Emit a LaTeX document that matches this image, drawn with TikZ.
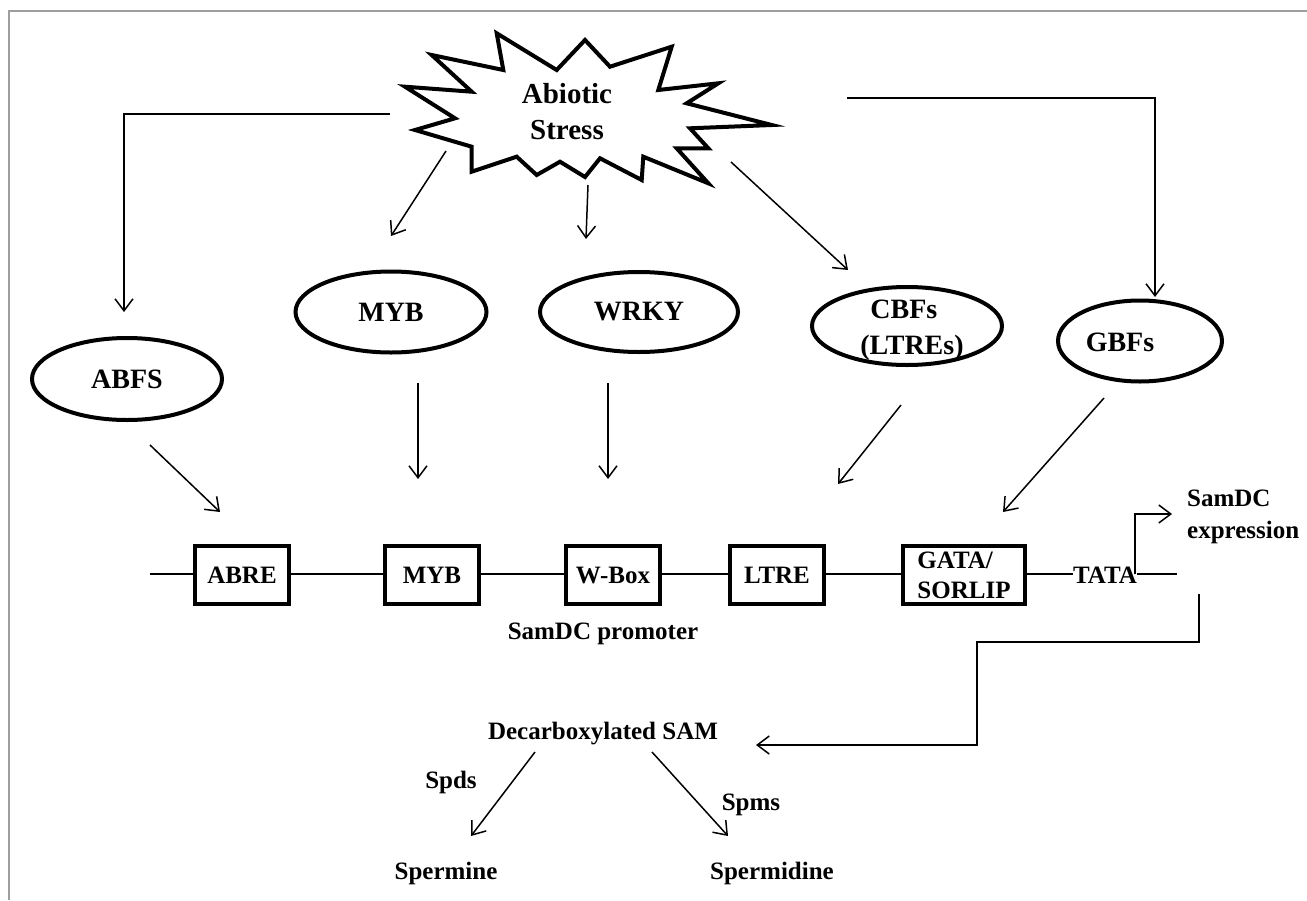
\documentclass[tikz,border=0pt]{standalone}
\usepackage{fontspec}
\setmainfont{Liberation Serif}
\usetikzlibrary{shapes.geometric,arrows.meta}
\begin{document}
\begin{tikzpicture}[x=1pt,y=-1pt,
  arr/.style={line width=1.5pt,-{Straight Barb[length=12pt,width=18pt]}},
  ln/.style={line width=1.5pt},
  ell/.style={ellipse,draw,line width=4pt,inner sep=0pt,font=\fontsize{28}{34}\selectfont\bfseries},
  bx/.style={draw,line width=3.5pt,inner sep=0pt,minimum height=58pt,font=\fontsize{25}{29}\selectfont\bfseries},
  lbl/.style={inner sep=0pt,font=\fontsize{25}{32}\selectfont\bfseries},
]
\useasboundingbox (0,0) rectangle (1307,900);
\fill[white] (0,0) rectangle (1307,900);
\draw[black!38,line width=2pt] (9,900) -- (9,11) -- (1307,11);

% starburst
\draw[line width=4pt,line join=miter] (496.7,33.3) -- (556.7,70) -- (585,40) -- (610,66.7) -- (671.7,46.7) -- (658.3,90) -- (718.3,83.3) -- (686.7,103.3) -- (771.7,125) -- (690,128.3) -- (708.3,148.3) -- (676.7,148.3) -- (708.3,183.3) -- (643.3,156.7) -- (641.7,180) -- (600,158.3) -- (585,177) -- (560,161.7) -- (536.7,175) -- (516.7,156.7) -- (471.7,171.7) -- (471.7,146.7) -- (415,130) -- (455,118.3) -- (405,86.7) -- (471.7,91.7) -- (431.7,55) -- (503.3,70) -- cycle;
\node[inner sep=0pt,align=center,font=\fontsize{29}{36}\selectfont\bfseries] (stress) at (567,112) {Abiotic\\Stress};

% ellipses
\node[ell,minimum width=190pt,minimum height=82pt] (abfs) at (127,379) {ABFS};
\node[ell,minimum width=191pt,minimum height=81pt] (myb) at (391,312) {MYB};
\node[ell,minimum width=198pt,minimum height=80pt] (wrky) at (639,312) {WRKY};
\node[ell,minimum width=190pt,minimum height=78pt] (cbf) at (907,326) {};
\node[inner sep=0pt,align=left,font=\fontsize{28}{36}\selectfont\bfseries] (cbft) at (912,330) {\hspace*{10pt}CBFs\\(LTREs)};
\node[ell,minimum width=164pt,minimum height=81pt] (gbf) at (1140,341) {};
\node[inner sep=0pt,font=\fontsize{28}{34}\selectfont\bfseries] (gbft) at (1120,342) {GBFs};

% promoter boxes
\node[bx,minimum width=94pt] (abre) at (242,575) {ABRE};
\node[bx,minimum width=94pt] (mybb) at (432,575) {MYB};
\node[bx,minimum width=94pt] (wbox) at (613,575) {W-Box};
\node[bx,minimum width=94pt] (ltre) at (777,575) {LTRE};
\node[bx,minimum width=122pt,align=left,font=\fontsize{25}{30}\selectfont\bfseries] (gata) at (964,575) {GATA/\\SORLIP};
\node[lbl] (tata) at (1105,575) {TATA};
\node[lbl] (prom) at (603,634) {SamDC promoter};
\node[lbl,align=left,anchor=west] (expr) at (1187,517) {SamDC\\expression};

\coordinate (pstart) at (150,574);
\coordinate (pend) at (1177,574);
\draw[ln] (pstart) -- (abre.west |- pstart);
\draw[ln] (abre.east |- pstart) -- (mybb.west |- pstart);
\draw[ln] (mybb.east |- pstart) -- (wbox.west |- pstart);
\draw[ln] (wbox.east |- pstart) -- (ltre.west |- pstart);
\draw[ln] (ltre.east |- pstart) -- (gata.west |- pstart);
\draw[ln] (gata.east |- pstart) -- (tata.west |- pstart);
\draw[ln] (tata.east |- pstart) -- (pend);

% transcription start
\coordinate (tss) at (1135,574);
\coordinate (tssend) at (1172,514);
\draw[arr] (tss) |- (tssend);

% stress arrows
\coordinate (sL) at (390,114);
\coordinate (aL) at (124,312);
\draw[arr] (sL) -| (aL);
\coordinate (sM) at (446,151);
\coordinate (aM) at (391,236);
\draw[arr] (sM) -- (aM);
\coordinate (sW) at (588,185);
\coordinate (aW) at (586,239);
\draw[arr] (sW) -- (aW);
\coordinate (sC) at (731,162);
\coordinate (aC) at (848,270);
\draw[arr] (sC) -- (aC);
\coordinate (sR) at (847,98);
\coordinate (aR) at (1155,297);
\draw[arr] (sR) -| (aR);

% factor to element arrows
\coordinate (f1) at (150,445); \coordinate (e1) at (220,512);
\draw[arr] (f1) -- (e1);
\coordinate (f2) at (418,383); \coordinate (e2) at (418,479);
\draw[arr] (f2) -- (e2);
\coordinate (f3) at (608,383); \coordinate (e3) at (608,479);
\draw[arr] (f3) -- (e3);
\coordinate (f4) at (901,405); \coordinate (e4) at (838,484);
\draw[arr] (f4) -- (e4);
\coordinate (f5) at (1104,398); \coordinate (e5) at (1003,512);
\draw[arr] (f5) -- (e5);

% output path
\node[lbl] (dsam) at (603,734) {Decarboxylated SAM};
\coordinate (o1) at (1199,594);
\coordinate (o2) at (1199,642);
\coordinate (o3) at (977,642);
\coordinate (o4) at (977,745);
\coordinate (o5) at (756,745);
\draw[arr] (o1) -- (o2) -- (o3) -- (o4) -- (o5);

\node[lbl] (spm) at (446,873) {Spermine};
\node[lbl] (spd) at (772,873) {Spermidine};
\node[lbl] (spds) at (451,782) {Spds};
\node[lbl] (spms) at (751,805) {Spms};
\coordinate (d1) at (535,752); \coordinate (t1) at (471,836);
\draw[arr] (d1) -- (t1);
\coordinate (d2) at (652,752); \coordinate (t2) at (728,836);
\draw[arr] (d2) -- (t2);
\end{tikzpicture}
\end{document}
